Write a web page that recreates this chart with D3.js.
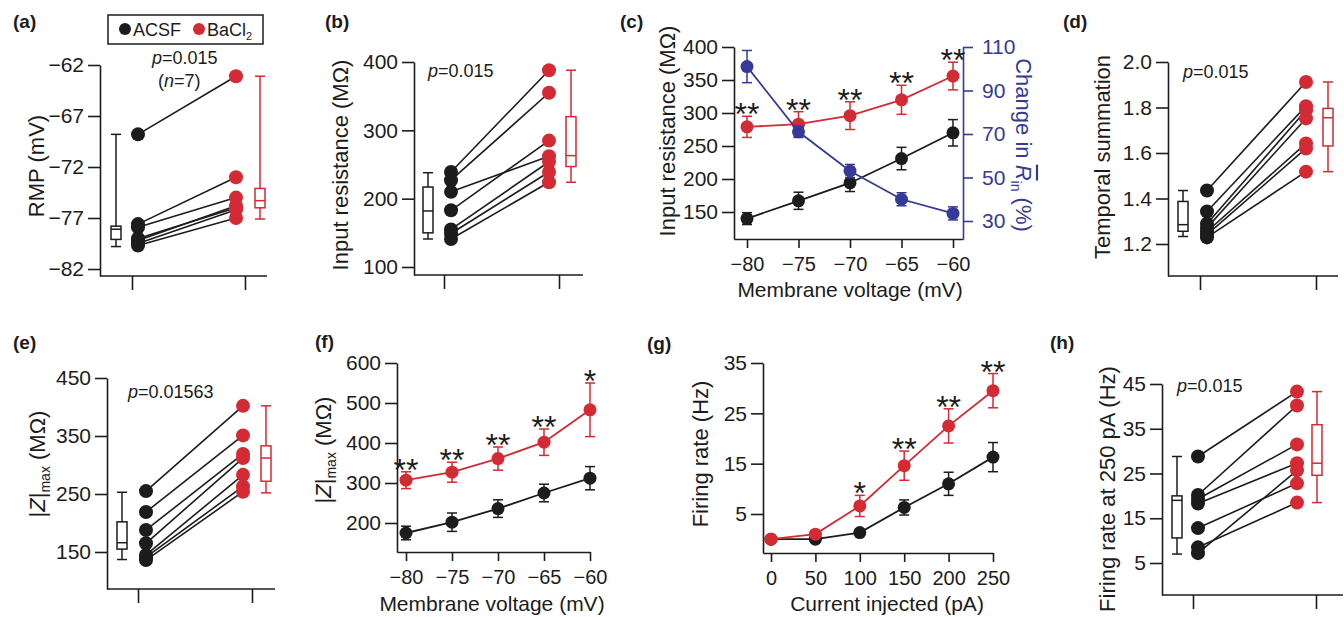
<!DOCTYPE html>
<html>
<head>
<meta charset="utf-8">
<title>BaCl2 effects</title>
<script src="https://cdnjs.cloudflare.com/ajax/libs/d3/7.8.5/d3.min.js"></script>
<style>
  body { margin: 0; background: #fff; }
  svg { font-family: 'Liberation Sans', Arial, sans-serif; }
  .axis path, .axis line { stroke: #1c1c1c; stroke-width: 1.6; }
  .axis text { font-family: 'Liberation Sans', Arial, sans-serif; font-size: 21px; fill: #1c1c1c; }
  .axis.xval text { font-size: 20px; }
  .axis.blue path, .axis.blue line { stroke: #353a96; }
  .axis.blue text { fill: #353a96; }
  .title { font-size: 22px; fill: #1c1c1c; }
  .xtitle { font-size: 21px; fill: #1c1c1c; }
  .plabel { font-size: 19px; font-weight: bold; fill: #1c1c1c; }
  .ptext { font-size: 18px; fill: #1c1c1c; }
</style>
</head>
<body>
<svg id="fig" width="1344" height="617"></svg>
<script>
// ---------- data ----------
const groups = ['ACSF', 'BaCl2'];

// (a) resting membrane potential (mV), paired cells
const rmpAcsf = [-68.8, -77.6, -77.9, -79.0, -79.2, -79.5, -79.7];
const rmpBacl = [-63.1, -73.0, -75.0, -76.0, -75.8, -76.2, -77.0];
// box stats: [low whisker, q1, median, q3, high whisker]
const rmpBox = [[-79.8, -79.1, -78.1, -77.8, -68.8], [-77.1, -76.0, -75.3, -74.1, -63.1]];
const rmpTicks = [-82, -77, -72, -67, -62];

// (b) input resistance (MOhm)
const rinAcsf = [239, 227, 210, 183, 155, 149, 141];
const rinBacl = [388, 355, 262, 285, 254, 239, 224];
const rinBox = [[141, 150, 182, 217, 238], [224, 247, 263, 320, 388]];
const rinTicks = [100, 200, 300, 400];

// (c) input resistance vs membrane voltage
const voltages = [-80, -75, -70, -65, -60];
const rinVAcsf = [140, 167, 194, 231, 270];
const rinVAcsfErr = [9, 13, 13, 17, 20];
const rinVBacl = [279, 283, 296, 320, 356];
const rinVBaclErr = [16, 19, 21, 22, 21];
const rinChange = [101, 71, 53, 40, 33.5];
const rinChangeErr = [7.4, 2.6, 3, 3, 3];
const rinVStars = ['**', '**', '**', '**', '**'];
const rinVTicks = [150, 200, 250, 300, 350, 400];
const changeTicks = [30, 50, 70, 90, 110];

// (d) temporal summation
const tsAcsf = [1.435, 1.343, 1.289, 1.272, 1.255, 1.241, 1.229];
const tsBacl = [1.912, 1.806, 1.788, 1.752, 1.642, 1.620, 1.518];
const tsBox = [[1.233, 1.256, 1.285, 1.387, 1.435], [1.518, 1.631, 1.755, 1.796, 1.912]];
const tsTicks = [1.2, 1.4, 1.6, 1.8, 2.0];

// (e) |Z|max (MOhm)
const zAcsf = [255, 219, 188, 165, 145, 141, 136];
const zBacl = [402, 351, 319, 312, 283, 263, 254];
const zBox = [[137, 155, 166, 202, 253], [252, 272, 312, 333, 402]];
const zTicks = [150, 250, 350, 450];

// (f) |Z|max vs membrane voltage
const zVAcsf = [175, 202, 236, 275, 312];
const zVAcsfErr = [17, 23, 22, 22, 29];
const zVBacl = [307, 327, 361, 402, 483];
const zVBaclErr = [21, 25, 29, 33, 67];
const zVStars = ['**', '**', '**', '**', '*'];
const zVTicks = [200, 300, 400, 500, 600];

// (g) firing rate vs injected current
const currents = [0, 50, 100, 150, 200, 250];
const frAcsf = [0, 0, 1.3, 6.3, 11, 16.3];
const frAcsfErr = [0, 0, 0.4, 1.5, 2.3, 2.9];
const frBacl = [0, 1.0, 6.6, 14.6, 22.5, 29.5];
const frBaclErr = [0, 0.6, 2.1, 2.9, 3.4, 3.4];
const frStars = ['', '', '*', '**', '**', '**'];
const frTicks = [5, 15, 25, 35];

// (h) firing rate at 250 pA (Hz)
const fr250Acsf = [28.8, 20.2, 19.3, 18.3, 12.8, 8.5, 7.2];
const fr250Bacl = [43.3, 40.2, 31.5, 27.3, 22.8, 18.5, 25.7];
const fr250Box = [[7.0, 10.6, 19.0, 20.0, 28.8], [18.5, 24.6, 27.3, 35.9, 43.3]];
const fr250Ticks = [5, 15, 25, 35, 45];

// ---------- drawing ----------
const RED = '#d42a34', BLACK = '#1c1c1c', BLUE = '#353a96';
const colors = { ACSF: BLACK, BaCl2: RED };
const svg = d3.select('#fig');

// linear scale pinned at two reference ticks, extended to an axis end pixel
function pinned(v0, p0, v1, p1, end0, end1) {
  const s = d3.scaleLinear().domain([v0, v1]).range([p0, p1]);
  return s.domain([s.invert(end0), s.invert(end1)]).range([end0, end1]);
}

function panelLabel(txt, x, y) {
  svg.append('text').attr('class', 'plabel').attr('x', x).attr('y', y).text(txt);
}

// rotated axis title; parts = [[text, kind]] with kind '', 'i' (italic), 'bar' (italic + overline), 'sub'
function yTitle(parts, cx, cy, rot, color) {
  const t = svg.append('text').attr('class', 'title')
    .attr('text-anchor', 'middle')
    .attr('transform', `translate(${cx},${cy}) rotate(${rot})`)
    .attr('dy', '0.36em')
    .style('fill', color || BLACK);
  let shifted = false;
  parts.forEach(([s, kind]) => {
    const sp = t.append('tspan').text(s);
    if (kind === 'i' || kind === 'bar') sp.style('font-style', 'italic');
    if (kind === 'bar') sp.style('text-decoration', 'overline');
    if (kind === 'sub') { sp.style('font-size', '14px').attr('dy', 5); shifted = true; }
    else if (shifted) { sp.attr('dy', -5); shifted = false; }
  });
}

function xTitle(txt, cx, y) {
  svg.append('text').attr('class', 'xtitle').attr('x', cx).attr('y', y)
    .attr('text-anchor', 'middle').text(txt);
}

function pText(x, y, pieces) {
  const t = svg.append('text').attr('class', 'ptext').attr('x', x).attr('y', y);
  pieces.forEach(([s, it]) => t.append('tspan').text(s).style('font-style', it ? 'italic' : null));
}

function drawBox(g, cx, stats, color, y) {
  const [lo, q1, med, q3, hi] = stats, w = 10;
  const b = g.append('g').attr('stroke', color).attr('stroke-width', 1.5).attr('fill', 'none');
  b.append('line').attr('x1', cx).attr('x2', cx).attr('y1', y(hi)).attr('y2', y(q3));
  b.append('line').attr('x1', cx).attr('x2', cx).attr('y1', y(q1)).attr('y2', y(lo));
  [hi, lo].forEach(v => b.append('line').attr('x1', cx - w / 2).attr('x2', cx + w / 2).attr('y1', y(v)).attr('y2', y(v)));
  b.append('rect').attr('x', cx - w / 2).attr('width', w).attr('y', y(q3)).attr('height', y(q1) - y(q3)).attr('fill', '#fff');
  b.append('line').attr('x1', cx - w / 2).attr('x2', cx + w / 2).attr('y1', y(med)).attr('y2', y(med));
}

function pairedPanel(cfg) {
  const g = svg.append('g');
  const [v0, p0, v1, p1] = cfg.ref;
  const y = pinned(v0, p0, v1, p1, cfg.bottom, p1);
  const x = d3.scalePoint().domain(groups).range(cfg.tickPx);

  g.append('g').attr('class', 'axis').attr('transform', `translate(${cfg.axisX},0)`)
    .call(d3.axisLeft(y).tickValues(cfg.ticks).tickSize(12).tickPadding(4).tickSizeOuter(0)
      .tickFormat(cfg.fmt || d3.format('')));
  const xa = g.append('g').attr('class', 'axis').attr('transform', `translate(0,${cfg.bottom})`);
  xa.call(d3.axisBottom(x).tickSize(14).tickFormat(''));
  xa.select('.domain').remove();
  xa.append('line').attr('x1', cfg.axisX).attr('x2', cfg.axisEnd);

  const xd = grp => x(grp) + cfg.dot[groups.indexOf(grp)];
  const pairs = cfg.acsf.map((v, i) => [v, cfg.bacl[i]]);
  g.selectAll('line.pair').data(pairs).join('line').attr('class', 'pair')
    .attr('x1', xd('ACSF')).attr('x2', xd('BaCl2'))
    .attr('y1', d => y(d[0])).attr('y2', d => y(d[1]))
    .attr('stroke', BLACK).attr('stroke-width', 1.6);
  groups.forEach((grp, k) => {
    const vals = k === 0 ? cfg.acsf : cfg.bacl;
    g.selectAll(null).data(vals).join('circle')
      .attr('cx', xd(grp)).attr('cy', d => y(d)).attr('r', 7).attr('fill', colors[grp]);
    drawBox(g, x(grp) + cfg.box[k], cfg.boxStats[k], colors[grp], y);
  });
  return y;
}

function seriesDraw(g, x, y, xs, vals, errs, color) {
  g.append('path').datum(vals)
    .attr('d', d3.line().x((d, i) => x(xs[i])).y(d => y(d)))
    .attr('fill', 'none').attr('stroke', color).attr('stroke-width', 1.8);
  const eb = g.append('g').attr('stroke', color).attr('stroke-width', 1.5);
  vals.forEach((v, i) => {
    if (!errs[i]) return;
    const cx = x(xs[i]);
    eb.append('line').attr('x1', cx).attr('x2', cx).attr('y1', y(v - errs[i])).attr('y2', y(v + errs[i]));
    [v - errs[i], v + errs[i]].forEach(e => eb.append('line').attr('x1', cx - 5).attr('x2', cx + 5).attr('y1', y(e)).attr('y2', y(e)));
  });
  g.selectAll(null).data(vals).join('circle')
    .attr('cx', (d, i) => x(xs[i])).attr('cy', d => y(d)).attr('r', 6.5).attr('fill', color);
}

function starsDraw(g, x, y, xs, vals, errs, stars) {
  g.selectAll(null).data(stars).join('text')
    .attr('x', (d, i) => x(xs[i])).attr('y', (d, i) => y(vals[i] + errs[i]) + 9)
    .attr('text-anchor', 'middle').style('font-size', '32px')
    .style('fill', BLACK).text(d => d);
}

function linePanel(cfg) {
  const g = svg.append('g');
  const x = pinned(cfg.xRef[0], cfg.xRef[1], cfg.xRef[2], cfg.xRef[3], cfg.xAxis[0], cfg.xAxis[1]);
  const y = pinned(cfg.yRef[0], cfg.yRef[1], cfg.yRef[2], cfg.yRef[3], cfg.bottom, cfg.yRef[3]);
  g.append('g').attr('class', 'axis').attr('transform', `translate(${cfg.xAxis[0]},0)`)
    .call(d3.axisLeft(y).tickValues(cfg.yTicks).tickSize(12).tickPadding(4).tickSizeOuter(0));
  g.append('g').attr('class', 'axis xval').attr('transform', `translate(0,${cfg.bottom})`)
    .call(d3.axisBottom(x).tickValues(cfg.xs).tickSize(9).tickPadding(9).tickSizeOuter(0));
  return { g, x, y };
}

// (a)
pairedPanel({ axisX: 100, axisEnd: 267, bottom: 276, ref: [-82, 269, -62, 65],
  tickPx: [132, 245], dot: [6, -9], box: [-16, 15], ticks: rmpTicks,
  acsf: rmpAcsf, bacl: rmpBacl, boxStats: rmpBox });
panelLabel('(a)', 13, 28);
yTitle([['RMP (mV)', '']], 36, 166, -90);
pText(152, 64, [['p', 1], ['=0.015']]);
pText(158, 87, [['(', 0], ['n', 1], ['=7)']]);
// legend
const lg = svg.append('g');
lg.append('rect').attr('x', 108).attr('y', 15).attr('width', 155).attr('height', 29)
  .attr('fill', '#fff').attr('stroke', BLACK).attr('stroke-width', 1.5);
groups.forEach((grp, i) => {
  const lx = [125, 199][i];
  lg.append('circle').attr('cx', lx).attr('cy', 29).attr('r', 6).attr('fill', colors[grp]);
  const t = lg.append('text').attr('x', lx + 8).attr('y', 36).style('font-size', '18px').style('fill', BLACK);
  if (grp === 'BaCl2') {
    t.append('tspan').text('BaCl');
    t.append('tspan').text('2').style('font-size', '11px').attr('dy', 4);
  } else t.text(grp);
});

// (b)
pairedPanel({ axisX: 414, axisEnd: 583, bottom: 275, ref: [100, 267, 400, 62],
  tickPx: [444, 559], dot: [7, -10], box: [-16, 12], ticks: rinTicks,
  acsf: rinAcsf, bacl: rinBacl, boxStats: rinBox });
panelLabel('(b)', 325, 28);
yTitle([['Input resistance (MΩ)', '']], 340, 165, -90);
pText(428, 77, [['p', 1], ['=0.015']]);

// (c)
{
  const { g, x, y } = linePanel({ xRef: [-80, 747, -60, 953], xAxis: [734, 963], bottom: 239,
    yRef: [150, 212, 400, 47], yTicks: rinVTicks, xs: voltages });
  const y2 = pinned(30, 221, 110, 47, 239, 47);
  g.append('g').attr('class', 'axis blue').attr('transform', 'translate(963,0)')
    .call(d3.axisRight(y2).tickValues(changeTicks).tickSize(10).tickPadding(9).tickSizeOuter(0));
  seriesDraw(g, x, y, voltages, rinVAcsf, rinVAcsfErr, BLACK);
  seriesDraw(g, x, y, voltages, rinVBacl, rinVBaclErr, RED);
  seriesDraw(g, x, y2, voltages, rinChange, rinChangeErr, BLUE);
  starsDraw(g, x, y, voltages, rinVBacl, rinVBaclErr, rinVStars);
  xTitle('Membrane voltage (mV)', 850, 297);
}
panelLabel('(c)', 620, 28);
yTitle([['Input resistance (MΩ)', '']], 667, 131, -90);
yTitle([['Change in ', ''], ['R', 'bar'], ['in', 'sub'], [' (%)', '']], 1024, 145, 90, BLUE);

// (d)
pairedPanel({ axisX: 1168, axisEnd: 1338, bottom: 276, ref: [1.2, 244, 2.0, 62],
  tickPx: [1200, 1316], dot: [7, -10], box: [-17, 12], ticks: tsTicks, fmt: d3.format('.1f'),
  acsf: tsAcsf, bacl: tsBacl, boxStats: tsBox });
panelLabel('(d)', 1063, 28);
yTitle([['Temporal summation', '']], 1102, 157, -90);
pText(1183, 78, [['p', 1], ['=0.015']]);

// (e)
pairedPanel({ axisX: 107, axisEnd: 275, bottom: 589, ref: [150, 552, 450, 378],
  tickPx: [138, 252], dot: [8, -9], box: [-16, 14], ticks: zTicks,
  acsf: zAcsf, bacl: zBacl, boxStats: zBox });
panelLabel('(e)', 13, 349);
yTitle([['|', ''], ['Z', 'i'], ['|', ''], ['max', 'sub'], [' (MΩ)', '']], 37, 464, -90);
pText(128, 398, [['p', 1], ['=0.01563']]);

// (f)
{
  const { g, x, y } = linePanel({ xRef: [-80, 406, -60, 590], xAxis: [397, 590], bottom: 552,
    yRef: [200, 523, 600, 363], yTicks: zVTicks, xs: voltages });
  seriesDraw(g, x, y, voltages, zVAcsf, zVAcsfErr, BLACK);
  seriesDraw(g, x, y, voltages, zVBacl, zVBaclErr, RED);
  starsDraw(g, x, y, voltages, zVBacl, zVBaclErr, zVStars);
  xTitle('Membrane voltage (mV)', 492, 611);
}
panelLabel('(f)', 315, 348);
yTitle([['|', ''], ['Z', 'i'], ['|', ''], ['max', 'sub'], [' (MΩ)', '']], 323, 450, -90);

// (g)
{
  const { g, x, y } = linePanel({ xRef: [0, 771, 250, 993], xAxis: [763, 993], bottom: 553,
    yRef: [5, 514, 35, 363], yTicks: frTicks, xs: currents });
  seriesDraw(g, x, y, currents, frAcsf, frAcsfErr, BLACK);
  seriesDraw(g, x, y, currents, frBacl, frBaclErr, RED);
  starsDraw(g, x, y, currents, frBacl, frBaclErr, frStars);
  xTitle('Current injected (pA)', 887, 611);
}
panelLabel('(g)', 647, 350);
yTitle([['Firing rate (Hz)', '']], 700, 454, -90);

// (h)
pairedPanel({ axisX: 1162, axisEnd: 1343, bottom: 595, ref: [5, 563, 45, 384],
  tickPx: [1193, 1316], dot: [5, -19], box: [-16, 1], ticks: fr250Ticks,
  acsf: fr250Acsf, bacl: fr250Bacl, boxStats: fr250Box });
panelLabel('(h)', 1050, 349);
yTitle([['Firing rate at 250 pA (Hz)', '']], 1107, 489, -90);
pText(1177, 392, [['p', 1], ['=0.015']]);
</script>
</body>
</html>
